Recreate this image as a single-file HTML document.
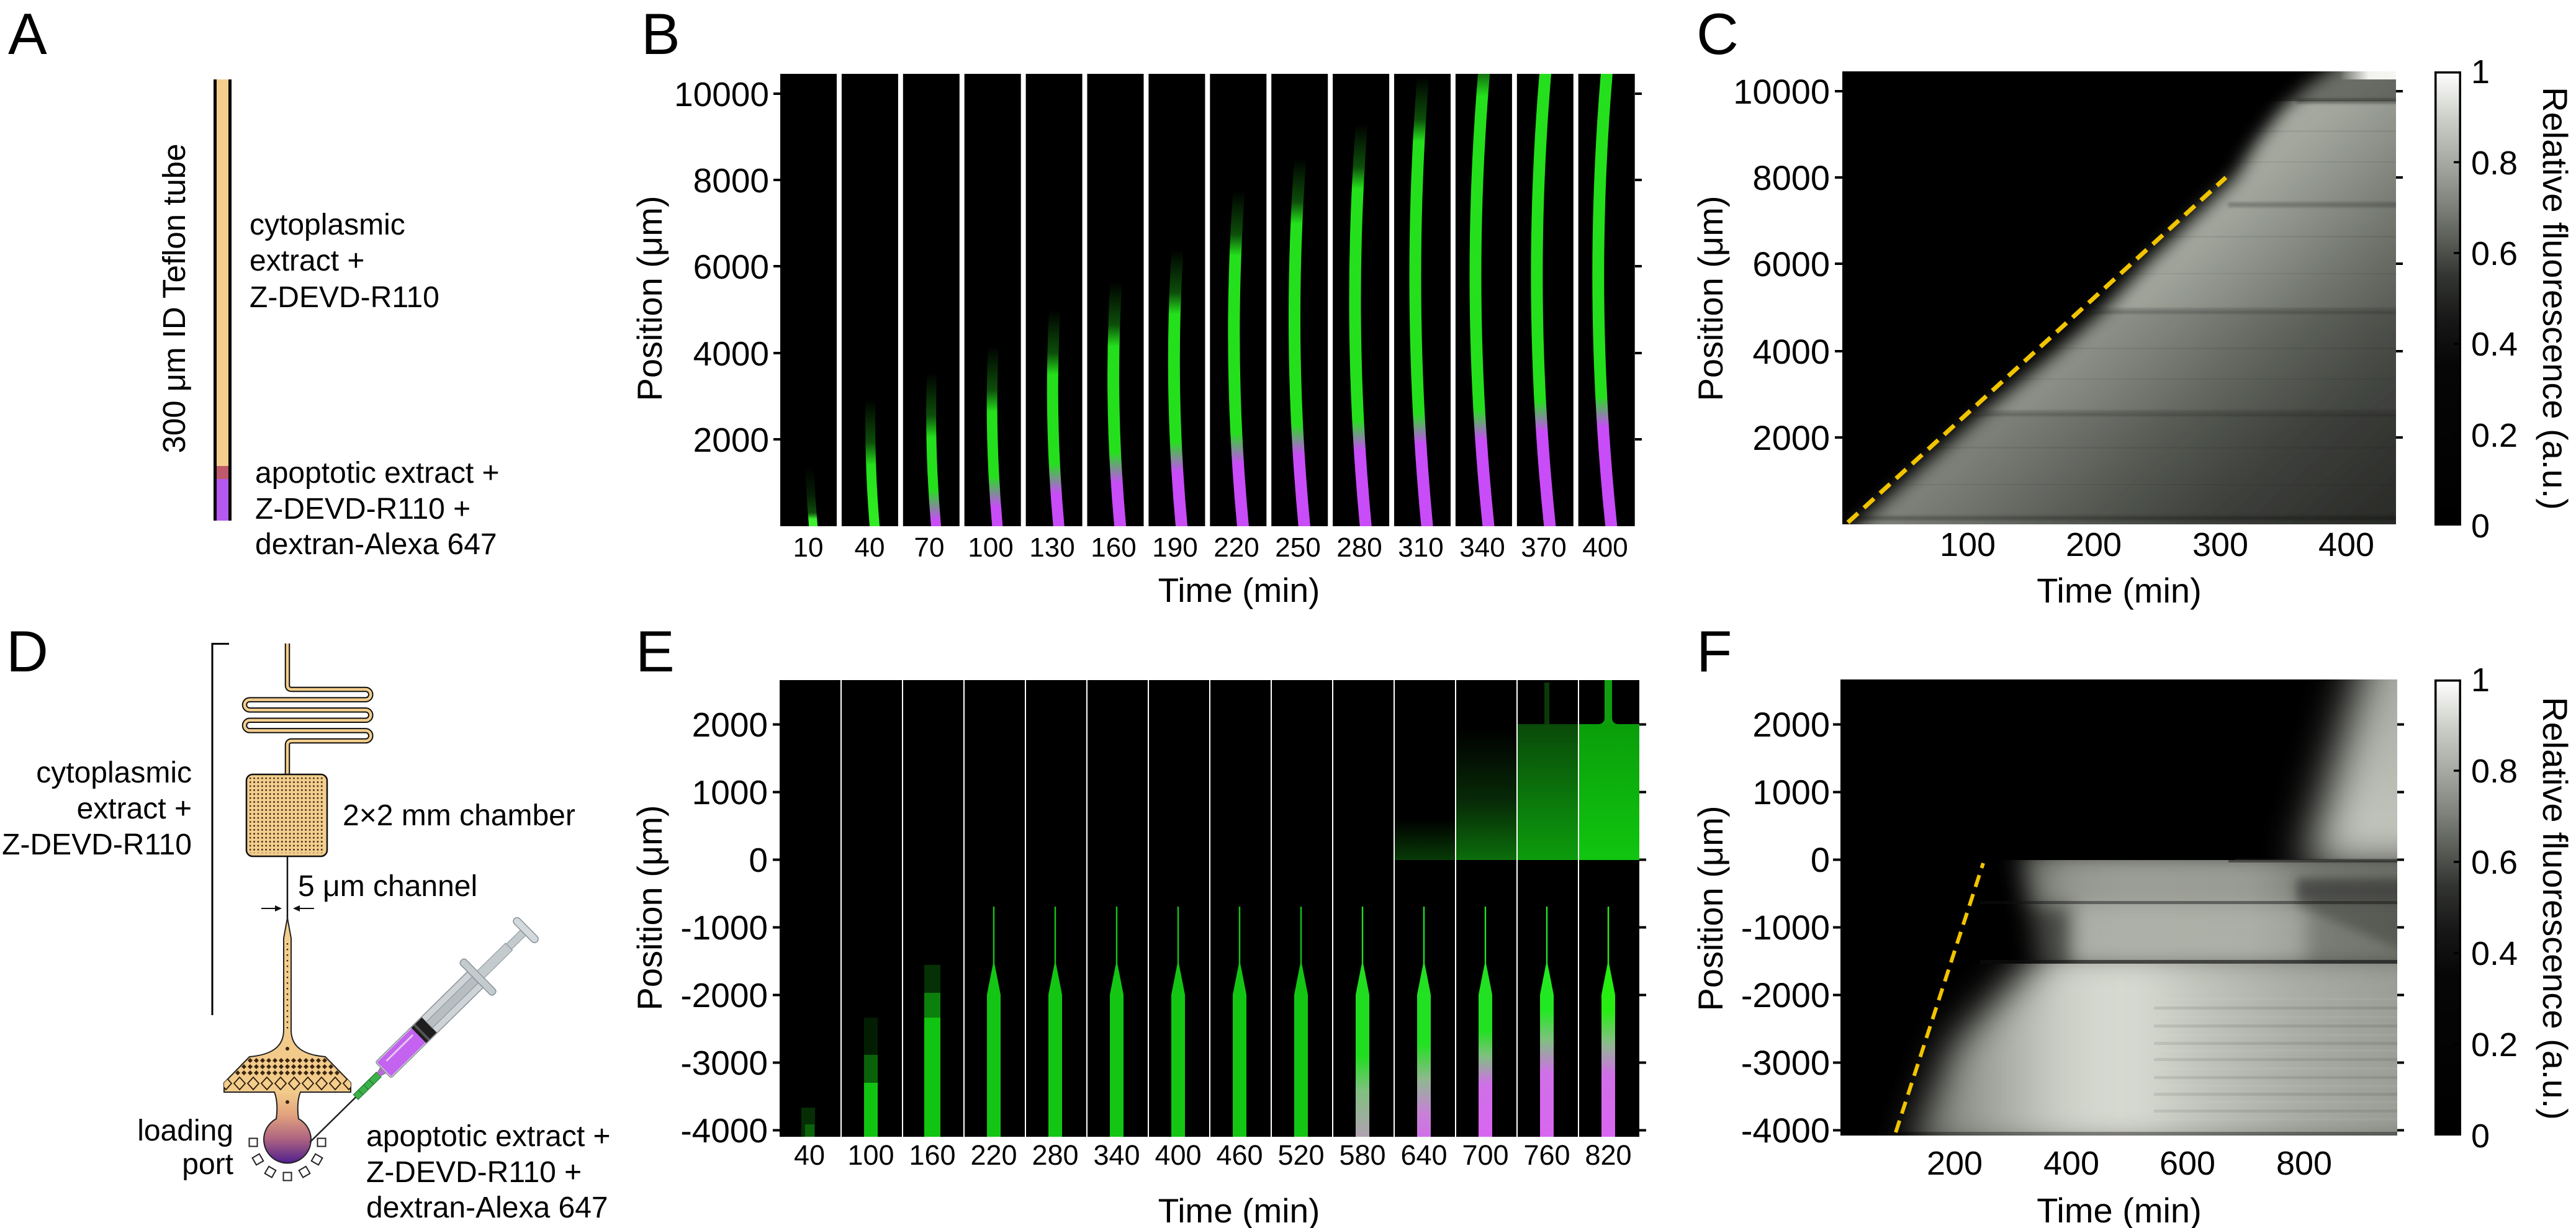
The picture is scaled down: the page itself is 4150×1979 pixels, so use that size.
<!DOCTYPE html>
<html><head><meta charset="utf-8"><style>html,body{margin:0;padding:0;background:#fff;}svg{display:block;}</style></head><body>
<svg xmlns="http://www.w3.org/2000/svg" xmlns:xlink="http://www.w3.org/1999/xlink" width="4150" height="1979" viewBox="0 0 4150 1979" font-family="'Liberation Sans', Arial, Helvetica, sans-serif" fill="#000">
<defs>
  <linearGradient id="cbg" x1="0" y1="1" x2="0" y2="0">
    <stop offset="0" stop-color="#000"/><stop offset="0.35" stop-color="#060606"/><stop offset="0.45" stop-color="#161716"/>
    <stop offset="0.55" stop-color="#333532"/><stop offset="0.62" stop-color="#555853"/><stop offset="0.7" stop-color="#7b7f78"/>
    <stop offset="0.8" stop-color="#a5a9a1"/><stop offset="0.9" stop-color="#cdd0c9"/><stop offset="1" stop-color="#ffffff"/>
  </linearGradient>
  <linearGradient id="b0" gradientUnits="userSpaceOnUse" x1="0" y1="848" x2="0" y2="119">
    <stop offset="0" stop-color="#3cf02c"/><stop offset="0.016" stop-color="#3cf02c"/><stop offset="0.03" stop-color="#24c01c" stop-opacity="0.4"/><stop offset="0.07" stop-color="#24c01c" stop-opacity="0.15"/><stop offset="0.13" stop-color="#24c01c" stop-opacity="0"/></linearGradient>
  <linearGradient id="b1" gradientUnits="userSpaceOnUse" x1="0" y1="848" x2="0" y2="119">
    <stop offset="0" stop-color="#30ee22"/><stop offset="0.135" stop-color="#24e01c"/><stop offset="0.185" stop-color="#24e01c" stop-opacity="0.35"/><stop offset="0.28" stop-color="#24e01c" stop-opacity="0"/></linearGradient>
  <linearGradient id="b2" gradientUnits="userSpaceOnUse" x1="0" y1="848" x2="0" y2="119">
    <stop offset="0" stop-color="#c84cf8"/><stop offset="0.014" stop-color="#c84cf8"/><stop offset="0.08" stop-color="#24e01c"/><stop offset="0.196" stop-color="#24e01c"/><stop offset="0.244" stop-color="#24e01c" stop-opacity="0.35"/><stop offset="0.339" stop-color="#24e01c" stop-opacity="0"/></linearGradient>
  <linearGradient id="b3" gradientUnits="userSpaceOnUse" x1="0" y1="848" x2="0" y2="119">
    <stop offset="0" stop-color="#c84cf8"/><stop offset="0.043" stop-color="#c84cf8"/><stop offset="0.11" stop-color="#24e01c"/><stop offset="0.253" stop-color="#24e01c"/><stop offset="0.301" stop-color="#24e01c" stop-opacity="0.35"/><stop offset="0.397" stop-color="#24e01c" stop-opacity="0"/></linearGradient>
  <linearGradient id="b4" gradientUnits="userSpaceOnUse" x1="0" y1="848" x2="0" y2="119">
    <stop offset="0" stop-color="#c84cf8"/><stop offset="0.072" stop-color="#c84cf8"/><stop offset="0.139" stop-color="#24e01c"/><stop offset="0.335" stop-color="#24e01c"/><stop offset="0.382" stop-color="#24e01c" stop-opacity="0.35"/><stop offset="0.478" stop-color="#24e01c" stop-opacity="0"/></linearGradient>
  <linearGradient id="b5" gradientUnits="userSpaceOnUse" x1="0" y1="848" x2="0" y2="119">
    <stop offset="0" stop-color="#c84cf8"/><stop offset="0.096" stop-color="#c84cf8"/><stop offset="0.163" stop-color="#24e01c"/><stop offset="0.397" stop-color="#24e01c"/><stop offset="0.445" stop-color="#24e01c" stop-opacity="0.35"/><stop offset="0.54" stop-color="#24e01c" stop-opacity="0"/></linearGradient>
  <linearGradient id="b6" gradientUnits="userSpaceOnUse" x1="0" y1="848" x2="0" y2="119">
    <stop offset="0" stop-color="#c84cf8"/><stop offset="0.12" stop-color="#c84cf8"/><stop offset="0.187" stop-color="#24e01c"/><stop offset="0.469" stop-color="#24e01c"/><stop offset="0.516" stop-color="#24e01c" stop-opacity="0.35"/><stop offset="0.612" stop-color="#24e01c" stop-opacity="0"/></linearGradient>
  <linearGradient id="b7" gradientUnits="userSpaceOnUse" x1="0" y1="848" x2="0" y2="119">
    <stop offset="0" stop-color="#c84cf8"/><stop offset="0.139" stop-color="#c84cf8"/><stop offset="0.206" stop-color="#24e01c"/><stop offset="0.598" stop-color="#24e01c"/><stop offset="0.645" stop-color="#24e01c" stop-opacity="0.35"/><stop offset="0.741" stop-color="#24e01c" stop-opacity="0"/></linearGradient>
  <linearGradient id="b8" gradientUnits="userSpaceOnUse" x1="0" y1="848" x2="0" y2="119">
    <stop offset="0" stop-color="#c84cf8"/><stop offset="0.158" stop-color="#c84cf8"/><stop offset="0.225" stop-color="#24e01c"/><stop offset="0.669" stop-color="#24e01c"/><stop offset="0.717" stop-color="#24e01c" stop-opacity="0.35"/><stop offset="0.813" stop-color="#24e01c" stop-opacity="0"/></linearGradient>
  <linearGradient id="b9" gradientUnits="userSpaceOnUse" x1="0" y1="848" x2="0" y2="119">
    <stop offset="0" stop-color="#c84cf8"/><stop offset="0.167" stop-color="#c84cf8"/><stop offset="0.234" stop-color="#24e01c"/><stop offset="0.746" stop-color="#24e01c"/><stop offset="0.794" stop-color="#24e01c" stop-opacity="0.35"/><stop offset="0.889" stop-color="#24e01c" stop-opacity="0"/></linearGradient>
  <linearGradient id="b10" gradientUnits="userSpaceOnUse" x1="0" y1="848" x2="0" y2="119">
    <stop offset="0" stop-color="#c84cf8"/><stop offset="0.182" stop-color="#c84cf8"/><stop offset="0.249" stop-color="#24e01c"/><stop offset="0.851" stop-color="#24e01c"/><stop offset="0.899" stop-color="#24e01c" stop-opacity="0.35"/><stop offset="0.994" stop-color="#24e01c" stop-opacity="0"/></linearGradient>
  <linearGradient id="b11" gradientUnits="userSpaceOnUse" x1="0" y1="848" x2="0" y2="119">
    <stop offset="0" stop-color="#c84cf8"/><stop offset="0.191" stop-color="#c84cf8"/><stop offset="0.258" stop-color="#24e01c"/><stop offset="0.95" stop-color="#24e01c"/><stop offset="1" stop-color="#24e01c" stop-opacity="0.5"/></linearGradient>
  <linearGradient id="b12" gradientUnits="userSpaceOnUse" x1="0" y1="848" x2="0" y2="119">
    <stop offset="0" stop-color="#c84cf8"/><stop offset="0.21" stop-color="#c84cf8"/><stop offset="0.277" stop-color="#24e01c"/><stop offset="1" stop-color="#24e01c"/></linearGradient>
  <linearGradient id="b13" gradientUnits="userSpaceOnUse" x1="0" y1="848" x2="0" y2="119">
    <stop offset="0" stop-color="#c84cf8"/><stop offset="0.22" stop-color="#c84cf8"/><stop offset="0.287" stop-color="#24e01c"/><stop offset="1" stop-color="#24e01c"/></linearGradient>

  <clipPath id="bclip">
    <rect x="1257" y="119" width="91" height="729"/><rect x="1355.9" y="119" width="91" height="729"/>
    <rect x="1454.8" y="119" width="91" height="729"/><rect x="1553.7" y="119" width="91" height="729"/>
    <rect x="1652.6" y="119" width="91" height="729"/><rect x="1751.5" y="119" width="91" height="729"/>
    <rect x="1850.4" y="119" width="91" height="729"/><rect x="1949.3" y="119" width="91" height="729"/>
    <rect x="2048.2" y="119" width="91" height="729"/><rect x="2147.1" y="119" width="91" height="729"/>
    <rect x="2246" y="119" width="91" height="729"/><rect x="2344.9" y="119" width="91" height="729"/>
    <rect x="2443.8" y="119" width="91" height="729"/><rect x="2542.7" y="119" width="91" height="729"/>
  </clipPath>

  <polygon id="eb" points="-11,1832 -11,1603 -1.2,1553 -1.2,1461 1.2,1461 1.2,1553 11,1603 11,1832"/>
  <linearGradient id="gE9" gradientUnits="userSpaceOnUse" x1="0" y1="1832" x2="0" y2="1461">
    <stop offset="0" stop-color="#b0a0b0"/><stop offset="0.2" stop-color="#80c080"/><stop offset="0.35" stop-color="#20dd20"/><stop offset="1" stop-color="#20dd20"/></linearGradient>
  <linearGradient id="gE10" gradientUnits="userSpaceOnUse" x1="0" y1="1832" x2="0" y2="1461">
    <stop offset="0" stop-color="#d070e8"/><stop offset="0.1" stop-color="#c880d8"/><stop offset="0.25" stop-color="#90b890"/><stop offset="0.4" stop-color="#22e022"/><stop offset="1" stop-color="#22e022"/></linearGradient>
  <linearGradient id="gE11" gradientUnits="userSpaceOnUse" x1="0" y1="1832" x2="0" y2="1461">
    <stop offset="0" stop-color="#d866f0"/><stop offset="0.23" stop-color="#d070e8"/><stop offset="0.35" stop-color="#80c080"/><stop offset="0.46" stop-color="#22e022"/><stop offset="1" stop-color="#22e022"/></linearGradient>
  <linearGradient id="gE12" gradientUnits="userSpaceOnUse" x1="0" y1="1832" x2="0" y2="1461">
    <stop offset="0" stop-color="#d866f0"/><stop offset="0.28" stop-color="#d070e8"/><stop offset="0.42" stop-color="#80c080"/><stop offset="0.55" stop-color="#22e822"/><stop offset="1" stop-color="#22e822"/></linearGradient>
  <linearGradient id="gE13" gradientUnits="userSpaceOnUse" x1="0" y1="1832" x2="0" y2="1461">
    <stop offset="0" stop-color="#d866f0"/><stop offset="0.27" stop-color="#d070e8"/><stop offset="0.4" stop-color="#90b890"/><stop offset="0.55" stop-color="#25ee10"/><stop offset="1" stop-color="#25ee10"/></linearGradient>
  <linearGradient id="eu13" gradientUnits="userSpaceOnUse" x1="0" y1="1167" x2="0" y2="1386">
    <stop offset="0" stop-color="#0a9e0a"/><stop offset="1" stop-color="#10c610"/></linearGradient>
  <linearGradient id="eu12" gradientUnits="userSpaceOnUse" x1="0" y1="1167" x2="0" y2="1386">
    <stop offset="0" stop-color="#0a4a0a"/><stop offset="1" stop-color="#0c9c0c"/></linearGradient>
  <linearGradient id="eu11" gradientUnits="userSpaceOnUse" x1="0" y1="1175" x2="0" y2="1386">
    <stop offset="0" stop-color="#000"/><stop offset="0.55" stop-color="#072a07"/><stop offset="1" stop-color="#0b6e0b"/></linearGradient>
  <linearGradient id="eu10" gradientUnits="userSpaceOnUse" x1="0" y1="1320" x2="0" y2="1386">
    <stop offset="0" stop-color="#000"/><stop offset="1" stop-color="#073a07"/></linearGradient>

  <clipPath id="cclip"><rect x="2968" y="115" width="892" height="730"/></clipPath>
  <linearGradient id="cg" gradientUnits="userSpaceOnUse" x1="2977" y1="842" x2="3449" y2="1359">
    <stop offset="0" stop-color="#a6aaa0"/><stop offset="0.06" stop-color="#a2a69c"/><stop offset="0.2" stop-color="#8a8e86"/>
    <stop offset="0.35" stop-color="#6e726a"/><stop offset="0.55" stop-color="#50534e"/><stop offset="0.8" stop-color="#393b37"/><stop offset="1" stop-color="#2e302d"/></linearGradient>
  <linearGradient id="cw" x1="0" x2="1" y1="0" y2="0"><stop offset="0" stop-color="#f2f2ee" stop-opacity="0"/><stop offset="0.5" stop-color="#f2f2ee" stop-opacity="1"/><stop offset="1" stop-color="#f6f6f2"/></linearGradient>
  <filter id="bl14" filterUnits="userSpaceOnUse" x="2800" y="0" width="1350" height="1000"><feGaussianBlur stdDeviation="14"/></filter>
  <filter id="bl3" filterUnits="userSpaceOnUse" x="2800" y="0" width="1350" height="1979"><feGaussianBlur stdDeviation="2.5"/></filter>

  <clipPath id="ftop"><rect x="2965" y="1095" width="897" height="291"/></clipPath>
  <clipPath id="fmid"><rect x="2965" y="1386" width="897" height="167"/></clipPath>
  <clipPath id="flow"><rect x="2965" y="1553" width="897" height="277"/></clipPath>
  <clipPath id="fclip"><rect x="2965" y="1095" width="897" height="735"/></clipPath>
  <linearGradient id="ftopg" gradientUnits="userSpaceOnUse" x1="0" y1="1095" x2="0" y2="1386">
    <stop offset="0" stop-color="#a9aca4"/><stop offset="1" stop-color="#c6c9c0"/></linearGradient>
  <linearGradient id="fmidg" gradientUnits="userSpaceOnUse" x1="3200" y1="0" x2="3862" y2="0">
    <stop offset="0" stop-color="#3a3c39"/><stop offset="0.2" stop-color="#94978f"/><stop offset="0.35" stop-color="#9c9f97"/>
    <stop offset="0.65" stop-color="#989b93"/><stop offset="0.8" stop-color="#7a7d76"/><stop offset="1" stop-color="#70736b"/></linearGradient>
  <linearGradient id="flowg" gradientUnits="userSpaceOnUse" x1="3000" y1="0" x2="3862" y2="0">
    <stop offset="0" stop-color="#4a4c48"/><stop offset="0.232" stop-color="#9fa29a"/><stop offset="0.383" stop-color="#cfd2c9"/>
    <stop offset="0.499" stop-color="#d9dcd3"/><stop offset="0.638" stop-color="#c0c3ba"/><stop offset="0.812" stop-color="#a9aca4"/><stop offset="1" stop-color="#9a9e96"/></linearGradient>
  <filter id="bl35" filterUnits="userSpaceOnUse" x="2800" y="900" width="1350" height="1079"><feGaussianBlur stdDeviation="35"/></filter>
  <filter id="bl30" filterUnits="userSpaceOnUse" x="2800" y="900" width="1350" height="1079"><feGaussianBlur stdDeviation="30"/></filter>
  <filter id="bl20" filterUnits="userSpaceOnUse" x="2800" y="900" width="1350" height="1079"><feGaussianBlur stdDeviation="20"/></filter>
  <filter id="bl15" filterUnits="userSpaceOnUse" x="2800" y="900" width="1350" height="1079"><feGaussianBlur stdDeviation="15"/></filter>
  <filter id="bl8" filterUnits="userSpaceOnUse" x="2800" y="900" width="1350" height="1079"><feGaussianBlur stdDeviation="8"/></filter>

  <pattern id="dots" patternUnits="userSpaceOnUse" x="400" y="1251" width="6.4" height="6.4"><rect x="1.8" y="1.8" width="2.6" height="2.6" fill="#3b2a12"/></pattern>
  <pattern id="dsmall" patternUnits="userSpaceOnUse" x="358" y="1704" width="10" height="10"><polygon points="5,1 9,5 5,9 1,5" fill="#3a2510"/></pattern>
  <pattern id="dlarge" patternUnits="userSpaceOnUse" x="353" y="1734" width="22" height="24"><polygon points="11,2 20,12 11,22 2,12" fill="#F4CE8D" stroke="#2a1a08" stroke-width="1.8"/></pattern>
  <clipPath id="trap"><polygon points="402,1703 524,1703 565,1745 565,1760 361,1760 361,1745"/></clipPath>
  <linearGradient id="bodyg" gradientUnits="userSpaceOnUse" x1="0" y1="1479" x2="0" y2="1875">
    <stop offset="0" stop-color="#F4CE8D"/><stop offset="0.71" stop-color="#F2CA8A"/><stop offset="0.8" stop-color="#E3A47E"/>
    <stop offset="0.9" stop-color="#AE6480"/><stop offset="1" stop-color="#4E1E8E"/></linearGradient>
</defs>

<rect x="0" y="0" width="4150" height="1979" fill="#fff"/>

<g font-size="94">
  <text x="13" y="87">A</text>
  <text x="1033" y="87">B</text>
  <text x="2733" y="87">C</text>
  <text x="10" y="1082">D</text>
  <text x="1024" y="1082">E</text>
  <text x="2733" y="1082">F</text>
</g>

<!-- ================= Panel A ================= -->
<rect x="349" y="128" width="19" height="623" fill="#F4CE8D"/>
<rect x="349" y="751" width="19" height="21" fill="#BE5A6A"/>
<rect x="349" y="772" width="19" height="67" fill="#B45AF0"/>
<rect x="344" y="128" width="5" height="711" fill="#000"/>
<rect x="368" y="128" width="5" height="711" fill="#000"/>
<text transform="translate(298,481) rotate(-90)" text-anchor="middle" font-size="51">300 μm ID Teflon tube</text>
<g font-size="48">
  <text x="402" y="378">cytoplasmic</text>
  <text x="402" y="436">extract +</text>
  <text x="402" y="495">Z-DEVD-R110</text>
  <text x="411" y="778">apoptotic extract +</text>
  <text x="411" y="836">Z-DEVD-R110 +</text>
  <text x="411" y="893">dextran-Alexa 647</text>
</g>

<!-- ================= Panel B ================= -->
<g fill="#000">
  <rect x="1257" y="119" width="91" height="729"/><rect x="1355.9" y="119" width="91" height="729"/>
  <rect x="1454.8" y="119" width="91" height="729"/><rect x="1553.7" y="119" width="91" height="729"/>
  <rect x="1652.6" y="119" width="91" height="729"/><rect x="1751.5" y="119" width="91" height="729"/>
  <rect x="1850.4" y="119" width="91" height="729"/><rect x="1949.3" y="119" width="91" height="729"/>
  <rect x="2048.2" y="119" width="91" height="729"/><rect x="2147.1" y="119" width="91" height="729"/>
  <rect x="2246" y="119" width="91" height="729"/><rect x="2344.9" y="119" width="91" height="729"/>
  <rect x="2443.8" y="119" width="91" height="729"/><rect x="2542.7" y="119" width="91" height="729"/>
</g>
<g clip-path="url(#bclip)" fill="none">
  <path d="M1310.5,852 Q1305.8,798 1303.5,743.5" stroke="url(#b0)" stroke-width="14"/>
  <path d="M1409.4,852 Q1400.4,747 1402.4,642.5" stroke="url(#b1)" stroke-width="16"/>
  <path d="M1508.3,852 Q1497.1,726 1501.3,600.7" stroke="url(#b2)" stroke-width="16"/>
  <path d="M1607.2,852 Q1593.9,705.5 1600.2,559" stroke="url(#b3)" stroke-width="17"/>
  <path d="M1706.1,852 Q1689.8,676 1699.1,499.8" stroke="url(#b4)" stroke-width="18"/>
  <path d="M1805,852 Q1786.5,653 1798,454.5" stroke="url(#b5)" stroke-width="19"/>
  <path d="M1903.9,852 Q1882.9,627 1896.9,402.2" stroke="url(#b6)" stroke-width="19"/>
  <path d="M2002.8,852 Q1976.9,580 1995.8,308.2" stroke="url(#b7)" stroke-width="19"/>
  <path d="M2101.7,852 Q2073.2,554 2094.7,256" stroke="url(#b8)" stroke-width="19"/>
  <path d="M2200.6,852 Q2169.3,526 2193.6,200.3" stroke="url(#b9)" stroke-width="19"/>
  <path d="M2299.5,852 Q2264.4,488 2292.5,123.6" stroke="url(#b10)" stroke-width="19"/>
  <path d="M2398.4,852 Q2359.4,481 2391.4,109.7" stroke="url(#b11)" stroke-width="19"/>
  <path d="M2497.3,852 Q2458.3,481 2490.3,109.7" stroke="url(#b12)" stroke-width="19"/>
  <path d="M2596.2,852 Q2557.2,481 2589.2,109.7" stroke="url(#b13)" stroke-width="19"/>
</g>
<g stroke="#000" stroke-width="4">
  <line x1="1246" y1="151" x2="1257" y2="151"/><line x1="1246" y1="290" x2="1257" y2="290"/>
  <line x1="1246" y1="429" x2="1257" y2="429"/><line x1="1246" y1="569" x2="1257" y2="569"/>
  <line x1="1246" y1="708" x2="1257" y2="708"/>
  <line x1="2634" y1="151" x2="2645" y2="151"/><line x1="2634" y1="290" x2="2645" y2="290"/>
  <line x1="2634" y1="429" x2="2645" y2="429"/><line x1="2634" y1="569" x2="2645" y2="569"/>
  <line x1="2634" y1="708" x2="2645" y2="708"/>
</g>
<g font-size="55" text-anchor="end">
  <text x="1239" y="171">10000</text><text x="1239" y="310">8000</text><text x="1239" y="449">6000</text>
  <text x="1239" y="589">4000</text><text x="1239" y="728">2000</text>
</g>
<g font-size="44" text-anchor="middle">
  <text x="1302" y="897">10</text><text x="1401" y="897">40</text><text x="1497" y="897">70</text>
  <text x="1596" y="897">100</text><text x="1695" y="897">130</text><text x="1794" y="897">160</text>
  <text x="1893" y="897">190</text><text x="1992" y="897">220</text><text x="2091" y="897">250</text>
  <text x="2190" y="897">280</text><text x="2289" y="897">310</text><text x="2388" y="897">340</text>
  <text x="2487" y="897">370</text><text x="2586" y="897">400</text>
</g>
<text x="1996" y="970" font-size="55" text-anchor="middle">Time (min)</text>
<text transform="translate(1066,481) rotate(-90)" text-anchor="middle" font-size="56">Position (μm)</text>

<!-- ================= Panel C ================= -->
<g clip-path="url(#cclip)">
  <rect x="2968" y="115" width="892" height="730" fill="#000"/>
  <polygon points="2935,900 3004,835 3195,665 3315,565 3386,502 3458,425 3601,286 3633,232 3677,175 3721,135 3760,110 3780,60 3950,60 3950,900" fill="url(#cg)" filter="url(#bl14)"/>
  <rect x="2960" y="667" width="920" height="190" fill="#000" opacity="0.22"/>
  <rect x="2960" y="502" width="920" height="165" fill="#000" opacity="0.12"/>
  <rect x="3650" y="100" width="230" height="63" fill="#000" opacity="0.35"/>
  <g fill="#111" filter="url(#bl3)">
    <rect x="3700" y="160" width="180" height="6" opacity="0.5"/>
    <rect x="3590" y="327" width="290" height="6" opacity="0.35"/>
    <rect x="3370" y="498" width="510" height="6" opacity="0.35"/>
    <rect x="3180" y="663" width="700" height="6" opacity="0.35"/>
    <rect x="2990" y="832" width="890" height="6" opacity="0.3"/>
  </g>
  <rect x="3770" y="115" width="92" height="13" fill="url(#cw)"/>
  <g fill="#000" opacity="0.06">
    <rect x="2960" y="210" width="920" height="3"/><rect x="2960" y="260" width="920" height="2"/>
    <rect x="2960" y="380" width="920" height="3"/><rect x="2960" y="440" width="920" height="2"/>
    <rect x="2960" y="560" width="920" height="3"/><rect x="2960" y="610" width="920" height="2"/>
    <rect x="2960" y="720" width="920" height="3"/><rect x="2960" y="780" width="920" height="2"/>
  </g>
  <line x1="2977" y1="842" x2="3586" y2="286" stroke="#f2c400" stroke-width="7" stroke-dasharray="22 13"/>
</g>
<g stroke="#000" stroke-width="4">
  <line x1="2956" y1="147" x2="2968" y2="147"/><line x1="2956" y1="286" x2="2968" y2="286"/>
  <line x1="2956" y1="425" x2="2968" y2="425"/><line x1="2956" y1="566" x2="2968" y2="566"/>
  <line x1="2956" y1="705" x2="2968" y2="705"/>
  <line x1="3860" y1="147" x2="3871" y2="147"/><line x1="3860" y1="286" x2="3871" y2="286"/>
  <line x1="3860" y1="425" x2="3871" y2="425"/><line x1="3860" y1="566" x2="3871" y2="566"/>
  <line x1="3860" y1="705" x2="3871" y2="705"/>
</g>
<g font-size="56" text-anchor="end">
  <text x="2948" y="167">10000</text><text x="2948" y="306">8000</text><text x="2948" y="445">6000</text>
  <text x="2948" y="586">4000</text><text x="2948" y="725">2000</text>
</g>
<g font-size="54" text-anchor="middle">
  <text x="3170" y="896">100</text><text x="3373" y="896">200</text><text x="3577" y="896">300</text><text x="3780" y="896">400</text>
</g>
<text x="3414" y="971" font-size="56" text-anchor="middle">Time (min)</text>
<text transform="translate(2775,481) rotate(-90)" text-anchor="middle" font-size="56">Position (μm)</text>
<rect x="3923.75" y="116.75" width="39.5" height="728.5" fill="url(#cbg)" stroke="#000" stroke-width="3.5"/>
<g stroke="#000" stroke-width="3.5">
  <line x1="3953" y1="261.4" x2="3964" y2="261.4"/><line x1="3953" y1="407.8" x2="3964" y2="407.8"/>
  <line x1="3953" y1="554.2" x2="3964" y2="554.2"/><line x1="3953" y1="700.6" x2="3964" y2="700.6"/>
</g>
<g font-size="54">
  <text x="3981" y="134">1</text><text x="3981" y="281">0.8</text><text x="3981" y="427">0.6</text>
  <text x="3981" y="573">0.4</text><text x="3981" y="720">0.2</text><text x="3981" y="866">0</text>
</g>
<text transform="translate(4097,481) rotate(90)" text-anchor="middle" font-size="56">Relative fluorescence (a.u.)</text>

<!-- ================= Panel D ================= -->
<line x1="342" y1="1036" x2="342" y2="1636" stroke="#000" stroke-width="3"/>
<line x1="340.5" y1="1037.5" x2="369" y2="1037.5" stroke="#000" stroke-width="3"/>
<g font-size="48">
  <text x="309" y="1261" text-anchor="end">cytoplasmic</text>
  <text x="309" y="1319" text-anchor="end">extract +</text>
  <text x="309" y="1377" text-anchor="end">Z-DEVD-R110</text>
  <text x="552" y="1330">2×2 mm chamber</text>
  <text x="480" y="1444">5 μm channel</text>
  <text x="376" y="1838" text-anchor="end">loading</text>
  <text x="376" y="1892" text-anchor="end">port</text>
  <text x="590" y="1847">apoptotic extract +</text>
  <text x="590" y="1905">Z-DEVD-R110 +</text>
  <text x="590" y="1962">dextran-Alexa 647</text>
</g>
<path d="M463,1037 V1104 Q463,1111 470,1111 H589 A8.3,8.3 0 0 1 589,1127.6 H402.3 A8.3,8.3 0 0 0 402.3,1144.2 H589 A8.3,8.3 0 0 1 589,1160.8 H402.3 A8.3,8.3 0 0 0 402.3,1177.4 H589 A8.3,8.3 0 0 1 589,1194 H470 Q463,1194 463,1201 V1250" fill="none" stroke="#111" stroke-width="8.5"/>
<path d="M463,1037 V1104 Q463,1111 470,1111 H589 A8.3,8.3 0 0 1 589,1127.6 H402.3 A8.3,8.3 0 0 0 402.3,1144.2 H589 A8.3,8.3 0 0 1 589,1160.8 H402.3 A8.3,8.3 0 0 0 402.3,1177.4 H589 A8.3,8.3 0 0 1 589,1194 H470 Q463,1194 463,1201 V1252" fill="none" stroke="#F4CE8D" stroke-width="4.5"/>
<rect x="397" y="1248" width="130" height="132" rx="10" fill="#F4CE8D" stroke="#111" stroke-width="2.5"/>
<rect x="402" y="1253" width="120" height="122" fill="url(#dots)"/>
<line x1="463" y1="1381" x2="463" y2="1482" stroke="#111" stroke-width="2.5"/>
<line x1="421" y1="1464" x2="446" y2="1464" stroke="#111" stroke-width="2"/>
<polygon points="454,1464 443,1459 443,1469" fill="#111"/>
<line x1="506" y1="1464" x2="480" y2="1464" stroke="#111" stroke-width="2"/>
<polygon points="472,1464 483,1459 483,1469" fill="#111"/>
<path d="M463,1479 L469,1512 L469,1660 C469,1688 490,1700 524,1703 L565,1745 L565,1760 L484,1760 C479,1772 479,1790 481,1803 A38,38 0 1 1 445,1803 C447,1790 447,1772 442,1760 L361,1760 L361,1745 L402,1703 C436,1700 457,1688 457,1660 L457,1512 Z" fill="url(#bodyg)" stroke="#222" stroke-width="2"/>
<g clip-path="url(#trap)">
  <rect x="355" y="1705" width="215" height="29" fill="url(#dsmall)"/>
  <rect x="355" y="1734" width="215" height="24" fill="url(#dlarge)"/>
</g>
<line x1="463" y1="1520" x2="463" y2="1658" stroke="#3a2510" stroke-width="2.4" stroke-dasharray="2.4 6.6"/>
<circle cx="463" cy="1690" r="3" fill="#3a2510"/>
<circle cx="463" cy="1776" r="3" fill="#3a2510"/>
<g fill="#fff" stroke="#222" stroke-width="2">
  <rect x="-6.5" y="-6.5" width="13" height="13" transform="translate(518,1841) rotate(0)"/>
  <rect x="-6.5" y="-6.5" width="13" height="13" transform="translate(510.6,1868.5) rotate(30)"/>
  <rect x="-6.5" y="-6.5" width="13" height="13" transform="translate(490.5,1888.6) rotate(60)"/>
  <rect x="-6.5" y="-6.5" width="13" height="13" transform="translate(463,1896) rotate(90)"/>
  <rect x="-6.5" y="-6.5" width="13" height="13" transform="translate(435.5,1888.6) rotate(120)"/>
  <rect x="-6.5" y="-6.5" width="13" height="13" transform="translate(415.4,1868.5) rotate(150)"/>
  <rect x="-6.5" y="-6.5" width="13" height="13" transform="translate(408,1841) rotate(180)"/>
</g>
<g transform="translate(499,1841) rotate(-44.5)">
  <line x1="0" y1="0" x2="106" y2="0" stroke="#222" stroke-width="2.5"/>
  <rect x="104" y="-5.5" width="52" height="11" fill="#3cb04a" stroke="#1d6e2a" stroke-width="1"/>
  <line x1="115" y1="-5.5" x2="115" y2="5.5" stroke="#1d6e2a" stroke-width="1"/>
  <line x1="127" y1="-5.5" x2="127" y2="5.5" stroke="#1d6e2a" stroke-width="1"/>
  <line x1="139" y1="-5.5" x2="139" y2="5.5" stroke="#1d6e2a" stroke-width="1"/>
  <polygon points="156,-3.5 168,-7 168,7 156,3.5" fill="#b86ad8" stroke="#777" stroke-width="1"/>
  <rect x="166" y="-18" width="210" height="36" rx="3" fill="#cdd3d6" stroke="#8a9196" stroke-width="1.5"/>
  <rect x="168" y="-16" width="80" height="32" fill="#c463f0"/>
  <line x1="180" y1="-7" x2="240" y2="-7" stroke="#e6c8f0" stroke-width="3"/>
  <rect x="246" y="-17" width="24" height="34" fill="#1e1e1e"/>
  <rect x="251" y="-17" width="4" height="34" fill="#555"/>
  <rect x="270" y="-7" width="106" height="14" fill="#b7bec2" stroke="#8a9196" stroke-width="1"/>
  <rect x="374" y="-38" width="12" height="76" rx="5" fill="#c4cbcf" stroke="#8a9196" stroke-width="1.5"/>
  <rect x="386" y="-8" width="64" height="16" fill="#c4cbcf" stroke="#8a9196" stroke-width="1"/>
  <rect x="450" y="-6" width="33" height="12" fill="#c4cbcf" stroke="#8a9196" stroke-width="1"/>
  <rect x="482" y="-26" width="12" height="52" rx="6" fill="#d3d9dc" stroke="#8a9196" stroke-width="1.5"/>
</g>

<!-- ================= Panel E ================= -->
<rect x="1256" y="1096" width="1385" height="736" fill="#000"/>
<rect x="1291" y="1785" width="22" height="47" fill="#14b814" opacity="0.25"/>
<rect x="1297" y="1812" width="15" height="20" fill="#18c818" opacity="0.35"/>
<rect x="1392" y="1640" width="22" height="60" fill="#12c412" opacity="0.15"/>
<rect x="1392" y="1700" width="22" height="45" fill="#12c412" opacity="0.5"/>
<rect x="1392" y="1745" width="22" height="87" fill="#12c412"/>
<rect x="1489" y="1555" width="26" height="45" fill="#12c412" opacity="0.25"/>
<rect x="1489" y="1600" width="26" height="40" fill="#12c412" opacity="0.65"/>
<rect x="1489" y="1640" width="26" height="192" fill="#12c412"/>
<g fill="#14c614">
  <use xlink:href="#eb" href="#eb" x="1601"/><use xlink:href="#eb" href="#eb" x="1700"/>
  <use xlink:href="#eb" href="#eb" x="1799"/><use xlink:href="#eb" href="#eb" x="1898"/>
  <use xlink:href="#eb" href="#eb" x="1997"/><use xlink:href="#eb" href="#eb" x="2096"/>
</g>
<use xlink:href="#eb" href="#eb" x="2195" fill="url(#gE9)"/>
<use xlink:href="#eb" href="#eb" x="2294" fill="url(#gE10)"/>
<use xlink:href="#eb" href="#eb" x="2393" fill="url(#gE11)"/>
<use xlink:href="#eb" href="#eb" x="2492" fill="url(#gE12)"/>
<use xlink:href="#eb" href="#eb" x="2591" fill="url(#gE13)"/>
<rect x="2544" y="1167" width="97" height="219" fill="url(#eu13)"/>
<path d="M2585,1096 L2585,1156 Q2585,1167 2574,1167 L2608,1167 Q2597,1167 2597,1156 L2597,1096 Z" fill="#0e9e0e"/>
<rect x="2445" y="1167" width="98" height="219" fill="url(#eu12)"/>
<rect x="2488" y="1100" width="8" height="67" fill="#0a3a0a"/>
<rect x="2346" y="1175" width="98" height="211" fill="url(#eu11)"/>
<rect x="2247" y="1320" width="98" height="66" fill="url(#eu10)"/>
<g fill="#fff">
  <rect x="1354" y="1096" width="2" height="736"/><rect x="1453" y="1096" width="2" height="736"/>
  <rect x="1552" y="1096" width="2" height="736"/><rect x="1651" y="1096" width="2" height="736"/>
  <rect x="1750" y="1096" width="2" height="736"/><rect x="1849" y="1096" width="2" height="736"/>
  <rect x="1948" y="1096" width="2" height="736"/><rect x="2047" y="1096" width="2" height="736"/>
  <rect x="2146" y="1096" width="2" height="736"/><rect x="2245" y="1096" width="2" height="736"/>
  <rect x="2344" y="1096" width="2" height="736"/><rect x="2443" y="1096" width="2" height="736"/>
  <rect x="2542" y="1096" width="2" height="736"/>
</g>
<g stroke="#000" stroke-width="4">
  <line x1="1245" y1="1167.5" x2="1256" y2="1167.5"/><line x1="1245" y1="1276.5" x2="1256" y2="1276.5"/>
  <line x1="1245" y1="1385.5" x2="1256" y2="1385.5"/><line x1="1245" y1="1494.5" x2="1256" y2="1494.5"/>
  <line x1="1245" y1="1603.5" x2="1256" y2="1603.5"/><line x1="1245" y1="1712.5" x2="1256" y2="1712.5"/>
  <line x1="1245" y1="1821.5" x2="1256" y2="1821.5"/>
  <line x1="2641" y1="1167.5" x2="2652" y2="1167.5"/><line x1="2641" y1="1276.5" x2="2652" y2="1276.5"/>
  <line x1="2641" y1="1385.5" x2="2652" y2="1385.5"/><line x1="2641" y1="1494.5" x2="2652" y2="1494.5"/>
  <line x1="2641" y1="1603.5" x2="2652" y2="1603.5"/><line x1="2641" y1="1712.5" x2="2652" y2="1712.5"/>
  <line x1="2641" y1="1821.5" x2="2652" y2="1821.5"/>
</g>
<g font-size="55" text-anchor="end">
  <text x="1237" y="1187">2000</text><text x="1237" y="1296">1000</text><text x="1237" y="1405">0</text>
  <text x="1237" y="1514">-1000</text><text x="1237" y="1623">-2000</text><text x="1237" y="1732">-3000</text>
  <text x="1237" y="1841">-4000</text>
</g>
<g font-size="45" text-anchor="middle">
  <text x="1304" y="1877">40</text><text x="1403" y="1877">100</text><text x="1502" y="1877">160</text>
  <text x="1601" y="1877">220</text><text x="1700" y="1877">280</text><text x="1799" y="1877">340</text>
  <text x="1898" y="1877">400</text><text x="1997" y="1877">460</text><text x="2096" y="1877">520</text>
  <text x="2195" y="1877">580</text><text x="2294" y="1877">640</text><text x="2393" y="1877">700</text>
  <text x="2492" y="1877">760</text><text x="2591" y="1877">820</text>
</g>
<text x="1996" y="1970" font-size="55" text-anchor="middle">Time (min)</text>
<text transform="translate(1066,1463) rotate(-90)" text-anchor="middle" font-size="56">Position (μm)</text>

<!-- ================= Panel F ================= -->
<rect x="2965" y="1095" width="897" height="735" fill="#000"/>
<g clip-path="url(#ftop)">
  <polygon points="3827,1000 3950,1000 3950,1400 3713,1400" fill="url(#ftopg)" filter="url(#bl35)"/>
  <rect x="3600" y="1384" width="300" height="4" fill="#222" opacity="0.5"/>
</g>
<g clip-path="url(#fmid)">
  <polygon points="3255,1370 3950,1370 3950,1570 3285,1570" fill="url(#fmidg)" filter="url(#bl20)"/>
  <rect x="3700" y="1415" width="200" height="42" fill="#2a2c29" opacity="0.6" filter="url(#bl8)"/>
  <rect x="3150" y="1462" width="185" height="110" fill="#000" opacity="0.45" filter="url(#bl15)"/>
  <rect x="3345" y="1460" width="370" height="90" fill="#c4c7be" opacity="0.45" filter="url(#bl15)"/>
  <polygon points="3700,1458 3880,1458 3880,1535" fill="#000" opacity="0.22" filter="url(#bl8)"/>
  <rect x="3190" y="1452" width="700" height="5" fill="#111" opacity="0.45"/>
  <rect x="3190" y="1547" width="700" height="7" fill="#111" opacity="0.6"/>
  <rect x="3590" y="1386" width="300" height="4" fill="#1a1a1a" opacity="0.5"/>
</g>
<g clip-path="url(#flow)">
  <polygon points="3300,1520 3950,1520 3950,1860 3075,1860 3088,1822 3144,1682 3273,1553" fill="url(#flowg)" filter="url(#bl30)"/>
  <g fill="#e8ebe2" opacity="0.07">
    <rect x="3470" y="1608" width="400" height="4"/><rect x="3470" y="1637" width="400" height="4"/>
    <rect x="3470" y="1666" width="400" height="4"/><rect x="3470" y="1691" width="400" height="4"/>
    <rect x="3470" y="1720" width="400" height="4"/><rect x="3470" y="1748" width="400" height="4"/>
    <rect x="3470" y="1774" width="400" height="4"/><rect x="3470" y="1802" width="400" height="4"/>
  </g>
  <g fill="#000" opacity="0.08">
    <rect x="3470" y="1622" width="400" height="5"/><rect x="3470" y="1651" width="400" height="5"/>
    <rect x="3470" y="1679" width="400" height="5"/><rect x="3470" y="1705" width="400" height="5"/>
    <rect x="3470" y="1734" width="400" height="5"/><rect x="3470" y="1761" width="400" height="5"/>
    <rect x="3470" y="1788" width="400" height="5"/>
  </g>
  <rect x="3050" y="1824" width="820" height="6" fill="#000" opacity="0.35"/>
</g>
<g clip-path="url(#fclip)">
  <line x1="3054" y1="1825" x2="3195" y2="1391" stroke="#f2c400" stroke-width="6" stroke-dasharray="20 12"/>
</g>
<g stroke="#000" stroke-width="4">
  <line x1="2953" y1="1167.5" x2="2965" y2="1167.5"/><line x1="2953" y1="1276.5" x2="2965" y2="1276.5"/>
  <line x1="2953" y1="1385.5" x2="2965" y2="1385.5"/><line x1="2953" y1="1494.5" x2="2965" y2="1494.5"/>
  <line x1="2953" y1="1603.5" x2="2965" y2="1603.5"/><line x1="2953" y1="1712.5" x2="2965" y2="1712.5"/>
  <line x1="2953" y1="1821.5" x2="2965" y2="1821.5"/>
  <line x1="3862" y1="1167.5" x2="3873" y2="1167.5"/><line x1="3862" y1="1276.5" x2="3873" y2="1276.5"/>
  <line x1="3862" y1="1385.5" x2="3873" y2="1385.5"/><line x1="3862" y1="1494.5" x2="3873" y2="1494.5"/>
  <line x1="3862" y1="1603.5" x2="3873" y2="1603.5"/><line x1="3862" y1="1712.5" x2="3873" y2="1712.5"/>
  <line x1="3862" y1="1821.5" x2="3873" y2="1821.5"/>
</g>
<g font-size="56" text-anchor="end">
  <text x="2948" y="1187">2000</text><text x="2948" y="1296">1000</text><text x="2948" y="1405">0</text>
  <text x="2948" y="1514">-1000</text><text x="2948" y="1623">-2000</text><text x="2948" y="1732">-3000</text>
  <text x="2948" y="1841">-4000</text>
</g>
<g font-size="54" text-anchor="middle">
  <text x="3149" y="1893">200</text><text x="3337" y="1893">400</text><text x="3524" y="1893">600</text><text x="3712" y="1893">800</text>
</g>
<text x="3414" y="1970" font-size="56" text-anchor="middle">Time (min)</text>
<text transform="translate(2775,1464) rotate(-90)" text-anchor="middle" font-size="56">Position (μm)</text>
<rect x="3923.75" y="1096.75" width="39.5" height="731.5" fill="url(#cbg)" stroke="#000" stroke-width="3.5"/>
<g stroke="#000" stroke-width="3.5">
  <line x1="3953" y1="1242" x2="3964" y2="1242"/><line x1="3953" y1="1389" x2="3964" y2="1389"/>
  <line x1="3953" y1="1536" x2="3964" y2="1536"/><line x1="3953" y1="1683" x2="3964" y2="1683"/>
</g>
<g font-size="54">
  <text x="3981" y="1114">1</text><text x="3981" y="1261">0.8</text><text x="3981" y="1408">0.6</text>
  <text x="3981" y="1555">0.4</text><text x="3981" y="1702">0.2</text><text x="3981" y="1849">0</text>
</g>
<text transform="translate(4097,1464) rotate(90)" text-anchor="middle" font-size="56">Relative fluorescence (a.u.)</text>
</svg>
</body></html>
